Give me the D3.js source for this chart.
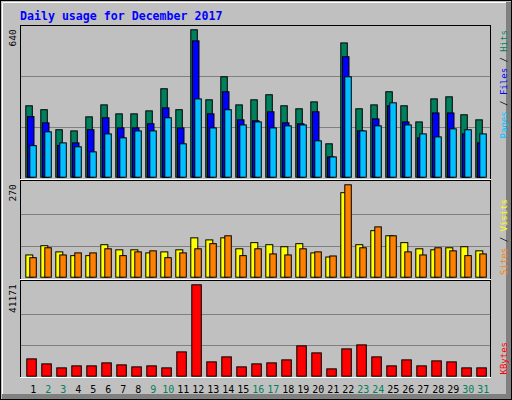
<!DOCTYPE html>
<html><head><meta charset="utf-8">
<script src="https://cdn.jsdelivr.net/npm/d3@7"></script>
<style>body{margin:0;background:#fff}svg{display:block}</style>
</head><body>
<script>
const days = d3.range(1, 32);
const weekendDays = [2,3,9,10,16,17,23,24,30,31];
const hits  = [310,293,206,201,262,314,275,275,288,384,293,640,336,436,314,336,358,310,297,327,145,583,297,314,371,310,240,340,349,271,249];
const files = [263,236,138,149,206,258,214,214,232,301,214,592,275,371,249,245,284,236,232,284,88,523,201,253,310,240,171,279,279,188,149];
const pages = [137,197,149,132,110,188,171,201,201,258,145,340,214,293,227,240,214,223,227,158,88,436,201,223,323,227,188,175,210,206,188];
const sites  = [65,92,74,63,63,95,80,80,71,74,80,115,109,115,83,101,95,89,98,71,59,247,95,136,121,101,83,80,86,89,77];
const visits = [57,86,65,71,71,83,63,74,77,57,71,83,98,121,63,83,68,65,83,74,62,270,86,147,121,74,65,86,77,63,68];
const kbytes = [7806,5554,3753,4654,4654,6004,5103,4203,4654,3753,10957,41171,6454,8706,4203,5554,6004,7355,13659,10507,3302,12308,14109,8706,4654,7355,4654,6905,6454,3753,3753];
const maxTop = 640, maxMid = 270, maxBot = 41171;

const W = 512, H = 400;
const svg = d3.select("body").append("svg").attr("width", W).attr("height", H);
svg.append("rect").attr("x",0).attr("y",0).attr("width",W).attr("height",H).attr("fill","#c0c0c0");
svg.append("rect").attr("x",506).attr("y",2).attr("width",6).attr("height",398).attr("fill","#808080");
svg.append("rect").attr("x",2).attr("y",394).attr("width",510).attr("height",6).attr("fill","#808080");
svg.append("rect").attr("x",0.5).attr("y",0.5).attr("width",W-1).attr("height",H-1).attr("fill","none").attr("stroke","#000");
svg.append("path").attr("d","M2.5,394 V2.5 H506").attr("stroke","#fff").attr("fill","none");

svg.append("text").attr("x",20).attr("y",20).text("Daily usage for December 2017")
  .attr("font-family","DejaVu Sans Mono").attr("font-weight","bold").attr("font-size","11.6px").attr("fill","#0000ff");

const x = d3.scaleBand().domain(days).range([25.3, 490.3]).padding(0);
const panels = [
  {y0:25, y1:180, base:176.7, top:29.3, max:maxTop},
  {y0:180, y1:280, base:276.7, top:184.3, max:maxMid},
  {y0:280, y1:378, base:375.7, top:284.3, max:maxBot}
];
panels.forEach(p => {
  p.y = d3.scaleLinear().domain([0,p.max]).range([p.base,p.top]);
  svg.append("rect").attr("x",20.5).attr("y",p.y0+0.5).attr("width",470).attr("height",p.y1-p.y0-1)
    .attr("fill","#c0c0c0").attr("stroke","#000");
  svg.append("line").attr("x1",20).attr("x2",491).attr("y1",p.y1-0.5).attr("y2",p.y1-0.5).attr("stroke","#fff");
  [0.335, 0.68].forEach(f => {
    const gy = Math.round(p.y(p.max*f))+0.5;
    svg.append("line").attr("x1",21).attr("x2",490).attr("y1",gy).attr("y2",gy).attr("stroke","#808080");
  });
  svg.append("text").attr("transform",`translate(16,${p.top}) rotate(-90)`).attr("text-anchor","end")
    .attr("font-family","DejaVu Sans Mono").attr("font-size","9.5px").text(d3.format("d")(p.max));
});

function bars(data, panel, off, w, color){
  svg.append("g").selectAll("rect").data(data).join("rect")
    .attr("x",(d,i)=>x(days[i])+off+0.5).attr("width",w)
    .attr("y",d=>panel.y(d)+0.5).attr("height",d=>panel.base-panel.y(d))
    .attr("fill",color).attr("stroke","#000");
}
bars(hits, panels[0], 0, 6.5, "#00805c");
bars(files, panels[0], 1.7, 6.5, "#0000ff");
bars(pages, panels[0], 4, 6.5, "#00c0ff");
bars(sites, panels[1], 0, 7, "#ffff00");
bars(visits, panels[1], 4, 6.5, "#ff8000");
bars(kbytes, panels[2], 1, 9.5, "#ff0000");

svg.append("g").selectAll("text").data(days).join("text")
  .attr("x",d=>x(d)+8).attr("y",393).attr("text-anchor","middle")
  .attr("font-family","DejaVu Sans Mono").attr("font-size","10px")
  .attr("fill",d=>weekendDays.includes(d)?"#00805c":"#000").text(d=>d);

function rlabel(yEnd, parts){
  const t = svg.append("text").attr("transform",`translate(507,${yEnd}) rotate(-90)`).attr("text-anchor","end")
    .attr("font-family","DejaVu Sans Mono").attr("font-size","9px");
  parts.forEach(([s,c]) => t.append("tspan").attr("fill",c).text(s));
}
rlabel(30, [["Pages","#00c0ff"],[" / ","#000"],["Files","#0000ff"],[" / ","#000"],["Hits","#00805c"]]);
rlabel(199, [["Sites","#ff8000"],[" / ","#000"],["Visits","#ffff00"]]);
rlabel(342, [["KBytes","#ff0000"]]);
</script>
</body></html>
